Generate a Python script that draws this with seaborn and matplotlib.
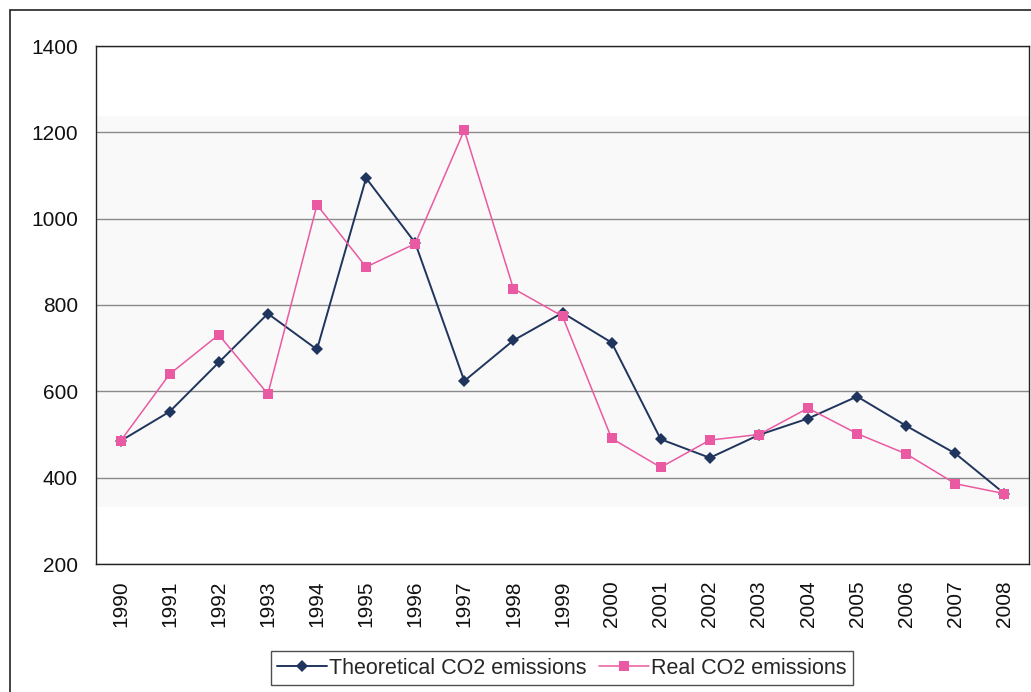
import matplotlib
matplotlib.use("Agg")
import matplotlib.pyplot as plt
from matplotlib.patches import Rectangle
import numpy as np
import pandas as pd
import seaborn as sns

# Annual CO2 emissions, theoretical vs. measured
years = ["1990", "1991", "1992", "1993", "1994", "1995", "1996", "1997", "1998", "1999",
         "2000", "2001", "2002", "2003", "2004", "2005", "2006", "2007", "2008"]
theoretical = [485, 553, 667, 780, 697, 1094, 944, 624, 718, 782,
               713, 489, 446, 499, 537, 588, 520, 456, 363]
real = [485, 640, 731, 594, 1032, 888, 942, 1205, 838, 774,
        491, 424, 487, 500, 561, 502, 455, 386, 363]
series_names = ["Theoretical CO2 emissions", "Real CO2 emissions"]
y_ticks = [200, 400, 600, 800, 1000, 1200, 1400]

sns.set_theme(style="white")
plt.rcParams["font.family"] = ["Liberation Sans", "DejaVu Sans"]

pos = np.arange(len(years))
df = pd.DataFrame({
    "pos": np.concatenate([pos, pos]),
    "value": theoretical + real,
    "series": [series_names[0]] * len(years) + [series_names[1]] * len(years),
})

fig = plt.figure(figsize=(10.31, 6.92), dpi=100)
ax = fig.add_axes([96 / 1031, 1 - 564 / 692, (1029 - 96) / 1031, (564 - 46) / 692])

# outer chart frame
fig.patches.append(Rectangle((10 / 1031, -0.05), 1.2, 1 - 10 / 692 + 0.05,
                             transform=fig.transFigure, fill=False,
                             edgecolor="#222222", linewidth=1.2, zorder=0))

ax.axhspan(333, 1238, color="#f9f9f9", zorder=0, linewidth=0)

colors = {series_names[0]: "#20355e", series_names[1]: "#ea5aa2"}
sns.lineplot(data=df[df.series == series_names[0]], x="pos", y="value", ax=ax,
             color=colors[series_names[0]], marker="D", markersize=6.5,
             markeredgewidth=0, linewidth=1.4, label=series_names[0], zorder=3)
sns.lineplot(data=df[df.series == series_names[1]], x="pos", y="value", ax=ax,
             color=colors[series_names[1]], marker="s", markersize=6.5,
             markeredgewidth=0, linewidth=1.1, label=series_names[1], zorder=4)

ax.set_xlim(-0.5, len(years) - 0.5)
ax.set_ylim(200, 1400)
ax.set_yticks(y_ticks)
ax.set_yticklabels([str(v) for v in y_ticks], fontsize=15, color="#111111")
ax.set_xticks(pos)
ax.set_xticklabels(years, rotation=90, fontsize=15, color="#111111")
ax.set_xticks(np.arange(-0.5, len(years), 1), minor=True)
ax.tick_params(axis="x", which="major", length=0, pad=12)
ax.tick_params(axis="x", which="minor", length=5, width=1, color="#222222", direction="out")
ax.tick_params(axis="y", which="major", length=5, width=1, color="#222222",
               direction="out", pad=8)
ax.set_xlabel("")
ax.set_ylabel("")

ax.grid(axis="y", color="#8a8a8a", linewidth=1)
ax.set_axisbelow(True)
for side, spine in ax.spines.items():
    spine.set_visible(True)
    spine.set_color("#222222")
    spine.set_linewidth(1)

ax.get_legend().remove()
handles, labels = ax.get_legend_handles_labels()
leg = fig.legend(handles, labels, loc="center", bbox_to_anchor=(562 / 1031, 1 - 668 / 692),
                 ncol=2, frameon=True, fancybox=False, fontsize=15.5,
                 handlelength=2.3, handletextpad=0.1, columnspacing=0.6,
                 borderpad=0.3, borderaxespad=0)
leg.get_frame().set_edgecolor("#222222")
leg.get_frame().set_linewidth(1)

fig.savefig("out.png", dpi=100)
